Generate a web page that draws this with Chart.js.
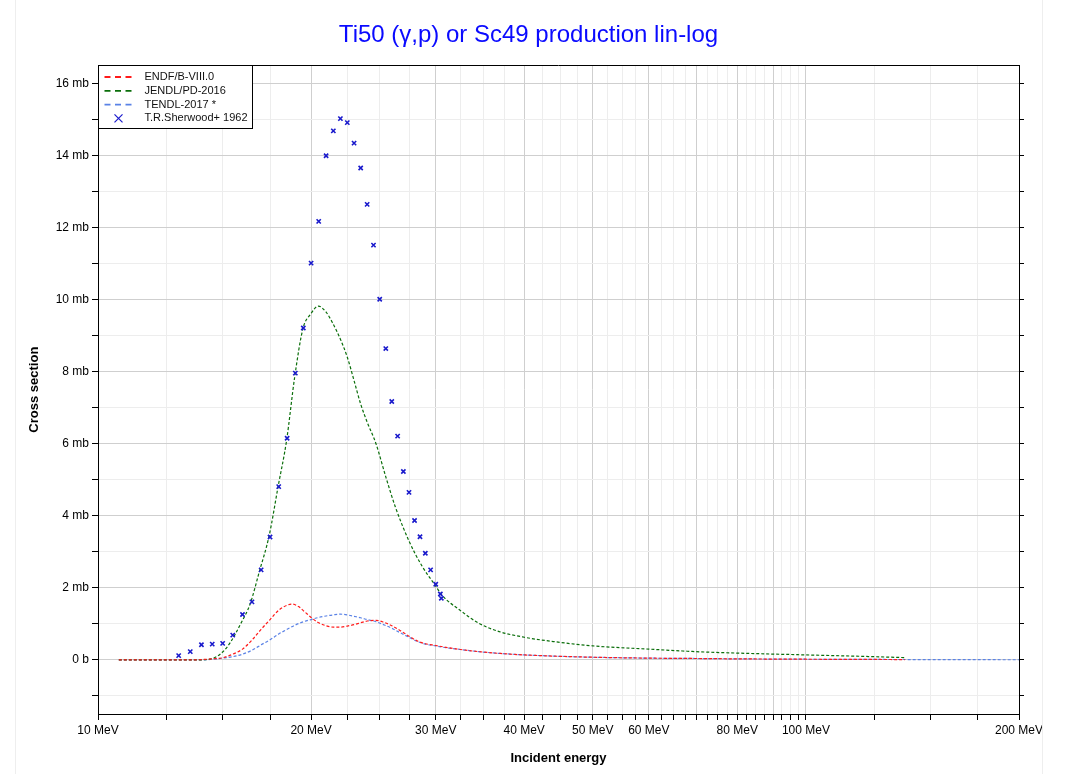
<!DOCTYPE html>
<html><head><meta charset="utf-8">
<script src="https://cdn.jsdelivr.net/npm/chart.js@4/dist/chart.umd.min.js"></script>
<style>html,body{margin:0;padding:0;background:#fff;}#wrap{width:1067px;height:774px;}</style>
</head><body><div id="wrap"><canvas id="c" width="1067" height="774"></canvas></div>
<script>
const chartTitle = 'Ti50 (γ,p) or Sc49 production lin-log';
const seriesLabels = ['ENDF/B-VIII.0', 'JENDL/PD-2016', 'TENDL-2017 *', 'T.R.Sherwood+ 1962'];

const endfE = [10.7,13.5,14.5,15,15.5,16,16.5,17,17.5,18,18.5,18.8,19.2,19.6,20,20.5,21,21.5,22,22.5,23,23.5,24,24.7,25.3,26,26.7,27.5,28.3,29,30,31,32.5,34.5,37,40,45,50,60,70,80,100,120,138];
const endfV = [0,0,0.03,0.06,0.16,0.3,0.55,0.85,1.12,1.38,1.52,1.55,1.48,1.33,1.18,1.03,0.95,0.91,0.91,0.94,0.98,1.03,1.08,1.10,1.05,0.95,0.82,0.66,0.52,0.45,0.40,0.35,0.29,0.23,0.18,0.14,0.10,0.075,0.05,0.04,0.03,0.02,0.015,0.01];

const jendlE = [10.7,13.5,14.2,14.6,15.0,15.4,15.9,16.4,16.9,17.45,17.96,18.47,18.96,19.48,19.98,20.47,21.0,21.45,22.0,22.5,23.0,23.5,24.0,24.7,25.5,26.3,27.5,28.7,30.0,30.6,32.4,34.5,36.7,40,44,50,60,70,80,100,120,138];
const jendlV = [0,0,0.01,0.06,0.22,0.5,1.0,1.55,2.45,3.45,4.8,6.1,7.85,9.2,9.6,9.82,9.65,9.35,8.9,8.4,7.75,7.1,6.6,6.0,5.08,4.25,3.3,2.6,2.05,1.8,1.39,1.02,0.8,0.63,0.51,0.39,0.30,0.23,0.19,0.14,0.1,0.065];

const tendlE = [10.7,14,14.5,15,15.5,16,16.5,17,17.5,18,18.5,19,19.5,20,20.5,21,21.5,22,22.5,23,23.5,24,24.7,25.3,26,26.7,27.5,28.3,29,30,31,32.5,34.5,37,40,45,50,60,70,80,100,150,200];
const tendlV = [0,0,0.02,0.05,0.09,0.16,0.27,0.42,0.56,0.72,0.85,0.97,1.06,1.12,1.18,1.22,1.25,1.27,1.25,1.21,1.17,1.12,1.06,0.98,0.88,0.76,0.63,0.51,0.44,0.39,0.34,0.29,0.23,0.18,0.14,0.10,0.075,0.05,0.04,0.03,0.02,0.01,0.005];

const expE = [13,13.5,14,14.5,15,15.5,16,16.5,17,17.5,18,18.5,19,19.5,20,20.5,21,21.5,22,22.5,23,23.5,24,24.5,25,25.5,26,26.5,27,27.5,28,28.5,29,29.5,30,30.45,30.55];
const expV = [0.12,0.23,0.42,0.44,0.46,0.69,1.26,1.61,2.50,3.41,4.81,6.15,7.96,9.21,11.01,12.17,13.99,14.68,15.02,14.91,14.34,13.65,12.64,11.51,10.01,8.64,7.17,6.21,5.23,4.65,3.87,3.42,2.96,2.50,2.10,1.83,1.71];

const xTickValues = [10,12.5,15,17.5,20,22.5,25,27.5,30,32.5,35,37.5,40,42.5,45,47.5,50,52.5,55,57.5,60,62.5,65,67.5,70,72.5,75,77.5,80,82.5,85,87.5,90,92.5,95,97.5,100,125,150,175,200];
const xMajorValues = [10,20,30,40,50,60,70,80,90,100,200];
const xLabelValues = [10,20,30,40,50,60,80,100,200];
const xLabelTexts = ['10 MeV','20 MeV','30 MeV','40 MeV','50 MeV','60 MeV','80 MeV','100 MeV','200 MeV'];
const yTickValues = [-1,0,1,2,3,4,5,6,7,8,9,10,11,12,13,14,15,16];
const yLabelValues = [0,2,4,6,8,10,12,14,16];
const yLabelTexts = ['0 b','2 mb','4 mb','6 mb','8 mb','10 mb','12 mb','14 mb','16 mb'];

const colors = ['#ff1a1a', '#0a6e0a', '#5a82e6', '#1a1acc'];
const FONT = "'Liberation Sans', Arial, Helvetica, sans-serif";

function pts(E, V) { return E.map((e, i) => ({x: e, y: V[i]})); }
function near(a, b) { return Math.abs(a - b) < 1e-6; }

function lineDs(i, E, V) {
  return {
    label: seriesLabels[i], data: pts(E, V), borderColor: colors[i], backgroundColor: colors[i],
    borderWidth: 1.2, borderDash: [3, 2], pointRadius: 0, fill: false,
    tension: 0.4, cubicInterpolationMode: 'monotone', order: 2
  };
}

const legendPlugin = {
  id: 'frameLegend',
  afterDraw(chart) {
    const ctx = chart.ctx, a = chart.chartArea;
    ctx.save();
    ctx.strokeStyle = '#eeeeee'; ctx.lineWidth = 1;
    ctx.beginPath(); ctx.moveTo(15.5, 0); ctx.lineTo(15.5, 774); ctx.moveTo(1042.5, 0); ctx.lineTo(1042.5, 774); ctx.stroke();
    ctx.strokeStyle = '#000'; ctx.lineWidth = 1;
    const ty = Math.round(a.top) + 0.5;
    ctx.beginPath(); ctx.moveTo(a.left, ty); ctx.lineTo(a.right, ty); ctx.stroke();
    const bx = Math.round(a.left) + 0.5, by = ty, bw = 154, bh = 63;
    ctx.fillStyle = '#fff'; ctx.fillRect(bx, by, bw, bh);
    ctx.strokeRect(bx, by, bw, bh);
    ctx.font = '11px ' + FONT; ctx.textBaseline = 'middle'; ctx.textAlign = 'left';
    chart.data.datasets.forEach((ds, i) => {
      const y = by + 11.5 + i * 13.8;
      if (i < 3) {
        ctx.strokeStyle = ds.borderColor; ctx.lineWidth = 1.8; ctx.setLineDash([6, 4.5]);
        ctx.beginPath(); ctx.moveTo(bx + 6, y); ctx.lineTo(bx + 36, y); ctx.stroke();
        ctx.setLineDash([]);
      } else {
        ctx.strokeStyle = ds.borderColor; ctx.lineWidth = 1.2;
        const cx = bx + 20, r = 4;
        ctx.beginPath(); ctx.moveTo(cx - r, y - r); ctx.lineTo(cx + r, y + r); ctx.moveTo(cx - r, y + r); ctx.lineTo(cx + r, y - r); ctx.stroke();
      }
      ctx.fillStyle = '#111'; ctx.fillText(ds.label, bx + 46, y);
    });
    ctx.restore();
  }
};

const gridColor = (vals) => (c) => {
  const v = c.tick ? c.tick.value : null;
  return vals.some(m => near(m, v)) ? '#cfcfcf' : '#ededed';
};

new Chart(document.getElementById('c'), {
  type: 'line',
  data: {
    datasets: [
      lineDs(0, endfE, endfV),
      lineDs(1, jendlE, jendlV),
      lineDs(2, tendlE, tendlV),
      {
        label: seriesLabels[3], data: pts(expE, expV), showLine: false,
        borderColor: colors[3], backgroundColor: colors[3], pointStyle: 'crossRot',
        pointRadius: 3, pointBorderWidth: 1.6, order: 1
      }
    ]
  },
  options: {
    responsive: false, animation: false, devicePixelRatio: 1,
    layout: {padding: {left: 15, right: 25, top: 0, bottom: 0}},
    plugins: {
      legend: {display: false},
      tooltip: {enabled: false},
      title: {display: true, text: chartTitle, color: '#0a0aff', font: {size: 24, family: FONT, weight: 'normal'}, padding: {top: 21, bottom: 15.5}}
    },
    scales: {
      x: {
        type: 'logarithmic', min: 10, max: 200, position: 'bottom',
        afterBuildTicks: s => { s.ticks = xTickValues.map(v => ({value: v})); },
        afterFit: s => { s.height = 60; },
        ticks: {
          autoSkip: false, maxRotation: 0, minRotation: 0, color: '#000', padding: 3,
          font: {size: 12, family: FONT},
          callback: v => { const k = xLabelValues.findIndex(m => near(m, v)); return k >= 0 ? xLabelTexts[k] : ''; }
        },
        grid: {color: gridColor(xMajorValues), tickColor: '#000', tickLength: 6, lineWidth: 1},
        border: {color: '#000', width: 1},
        title: {display: true, text: 'Incident energy', color: '#000', font: {size: 13, weight: 'bold', family: FONT}, padding: {top: 4, bottom: 8}}
      },
      y: {
        type: 'linear', position: 'left', min: -1.5, max: 16.5,
        afterBuildTicks: s => { s.ticks = yTickValues.map(v => ({value: v})); },
        afterFit: s => { s.width = 83; },
        ticks: {
          autoSkip: false, color: '#000', padding: 3, font: {size: 12, family: FONT},
          callback: v => { const k = yLabelValues.findIndex(m => near(m, v)); return k >= 0 ? yLabelTexts[k] : ''; }
        },
        grid: {color: gridColor(yLabelValues), tickColor: '#000', tickLength: 6},
        border: {color: '#000', width: 1},
        title: {display: true, text: 'Cross section', color: '#000', font: {size: 13, weight: 'bold', family: FONT}, padding: {top: 12, bottom: 8}}
      },
      y2: {
        type: 'linear', position: 'right', min: -1.5, max: 16.5,
        afterBuildTicks: s => { s.ticks = yTickValues.map(v => ({value: v})); },
        afterFit: s => { s.width = 23; },
        ticks: {display: false},
        grid: {drawOnChartArea: false, tickColor: '#000', tickLength: 5},
        border: {color: '#000', width: 1}
      }
    }
  },
  plugins: [legendPlugin]
});
</script>
</body></html>
